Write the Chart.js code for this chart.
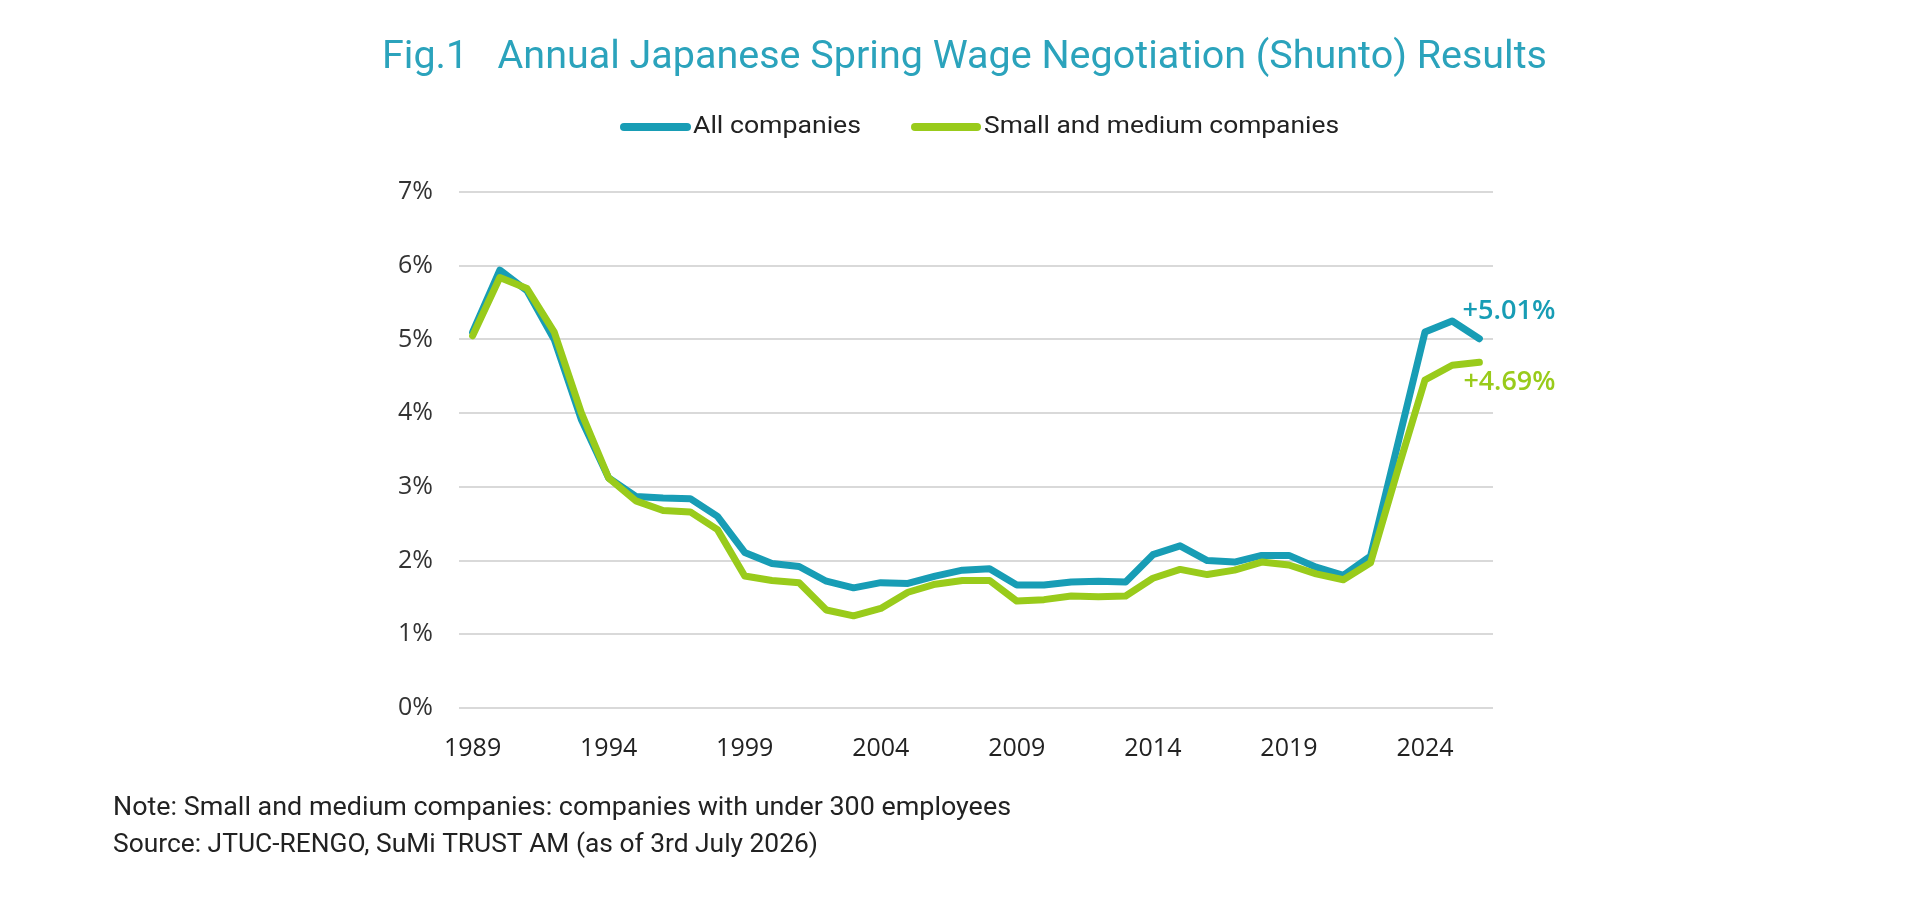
<!DOCTYPE html>
<html>
<head>
<meta charset="utf-8">
<script src="https://cdn.jsdelivr.net/npm/chart.js@4/dist/chart.umd.min.js"></script>
<style>
  body { margin: 0; background: #fff; }
  #wrap { width: 1920px; height: 901px; }
</style>
</head>
<body>
<div id="wrap"><canvas id="shunto-chart" width="1920" height="901"></canvas></div>
<script>
// Survey years (x categories)
const years = ['1989','1990','1991','1992','1993','1994','1995','1996','1997','1998',
  '1999','2000','2001','2002','2003','2004','2005','2006','2007','2008',
  '2009','2010','2011','2012','2013','2014','2015','2016','2017','2018',
  '2019','2020','2021','2022','2023','2024','2025','2026'];

// Years that get a tick label
const tickYears = ['1989','1994','1999','2004','2009','2014','2019','2024'];

// Wage increase, %
const allCompanies = [5.10, 5.94, 5.66, 5.00, 3.91, 3.12, 2.87, 2.85, 2.84, 2.60,
  2.11, 1.96, 1.92, 1.72, 1.63, 1.70, 1.69, 1.79, 1.87, 1.89,
  1.67, 1.67, 1.71, 1.72, 1.71, 2.08, 2.20, 2.00, 1.98, 2.07,
  2.07, 1.91, 1.80, 2.06, 3.58, 5.10, 5.25, 5.01];

const smallMedium = [5.05, 5.84, 5.69, 5.10, 4.00, 3.12, 2.81, 2.68, 2.66, 2.42,
  1.79, 1.73, 1.70, 1.33, 1.25, 1.35, 1.57, 1.68, 1.73, 1.73,
  1.45, 1.47, 1.52, 1.51, 1.52, 1.76, 1.88, 1.81, 1.87, 1.98,
  1.94, 1.82, 1.74, 1.97, 3.23, 4.45, 4.65, 4.69];

const seriesNames = ['All companies', 'Small and medium companies'];
const latestLabels = ['+5.01%', '+4.69%'];

const TEAL = '#189db5';
const GREEN = '#99cb1b';

// draw text squeezed/stretched to a given width
function fitText(ctx, text, x, y, width, font, color) {
  ctx.save();
  ctx.font = font;
  ctx.fillStyle = color;
  ctx.textBaseline = 'middle';
  ctx.textAlign = 'left';
  var w = ctx.measureText(text).width;
  ctx.translate(x, y);
  ctx.scale(width / w, 1);
  ctx.fillText(text, 0, 0);
  ctx.restore();
}

// Title, legend, notes and end labels
const extras = {
  id: 'extras',
  afterDraw(chart) {
    const ctx = chart.ctx;
    fitText(ctx, 'Fig.1   Annual Japanese Spring Wage Negotiation (Shunto) Results',
      382, 58, 1165, '38px Roboto', '#2ba3bc');

    // legend
    ctx.save();
    ctx.lineCap = 'round';
    ctx.lineWidth = 8;
    ctx.strokeStyle = TEAL;
    ctx.beginPath(); ctx.moveTo(624, 127); ctx.lineTo(687, 127); ctx.stroke();
    ctx.strokeStyle = GREEN;
    ctx.beginPath(); ctx.moveTo(915, 127); ctx.lineTo(977, 127); ctx.stroke();
    ctx.restore();
    fitText(ctx, seriesNames[0], 693, 127, 168, '24px Roboto', '#222');
    fitText(ctx, seriesNames[1], 984, 127, 355, '24px Roboto', '#222');

    // notes
    fitText(ctx, 'Note: Small and medium companies: companies with under 300 employees',
      113, 809, 898, '25px Roboto', '#222');
    fitText(ctx, 'Source: JTUC-RENGO, SuMi TRUST AM (as of 3rd July 2026)',
      113, 846, 705, '25px Roboto', '#222');

    // latest values next to the line ends
    const xs = chart.scales.x, ys = chart.scales.y;
    const last = years.length - 1;
    const px = xs.getPixelForValue(last);
    fitText(ctx, latestLabels[0], px - 17, ys.getPixelForValue(allCompanies[last]) - 27,
      93, '600 27px "Open Sans"', TEAL);
    fitText(ctx, latestLabels[1], px - 16, ys.getPixelForValue(smallMedium[last]) + 20,
      92, '600 27px "Open Sans"', GREEN);
  }
};

var ctx = document.getElementById('shunto-chart').getContext('2d');

var myChart = new Chart(ctx, {
  type: 'line',
  data: {
    labels: years,
    datasets: [{
      label: seriesNames[0],
      data: allCompanies,
      borderColor: TEAL,
      backgroundColor: TEAL,
      borderWidth: 7,
      borderJoinStyle: 'round',
      borderCapStyle: 'round',
      pointRadius: 0,
      tension: 0,
      order: 2
    }, {
      label: seriesNames[1],
      data: smallMedium,
      borderColor: GREEN,
      backgroundColor: GREEN,
      borderWidth: 7,
      borderJoinStyle: 'round',
      borderCapStyle: 'round',
      pointRadius: 0,
      tension: 0,
      order: 1
    }]
  },
  options: {
    responsive: false,
    animation: false,
    devicePixelRatio: 1,
    layout: {
      padding: { left: 359, right: 427, top: 192, bottom: 113 }
    },
    plugins: {
      legend: { display: false },
      title: { display: false },
      tooltip: { enabled: false }
    },
    scales: {
      x: {
        offset: true,
        afterFit: function (s) { s.height = 80; },
        grid: { display: false },
        border: { display: false },
        ticks: {
          autoSkip: false,
          maxRotation: 0,
          padding: 18,
          color: '#222',
          font: { family: 'Open Sans', size: 25 },
          callback: function (value) {
            var y = years[value];
            return tickYears.indexOf(y) >= 0 ? y : '';
          }
        }
      },
      y: {
        min: 0,
        max: 7,
        afterFit: function (s) { s.width = 100; },
        border: { display: false },
        grid: { color: '#d9d9d9', lineWidth: 2, drawTicks: false },
        ticks: {
          stepSize: 1,
          padding: 26,
          color: '#333',
          font: { family: 'Open Sans', size: 25 },
          callback: function (v) { return v + '%'; }
        }
      }
    }
  },
  plugins: [extras]
});
</script>
</body>
</html>
